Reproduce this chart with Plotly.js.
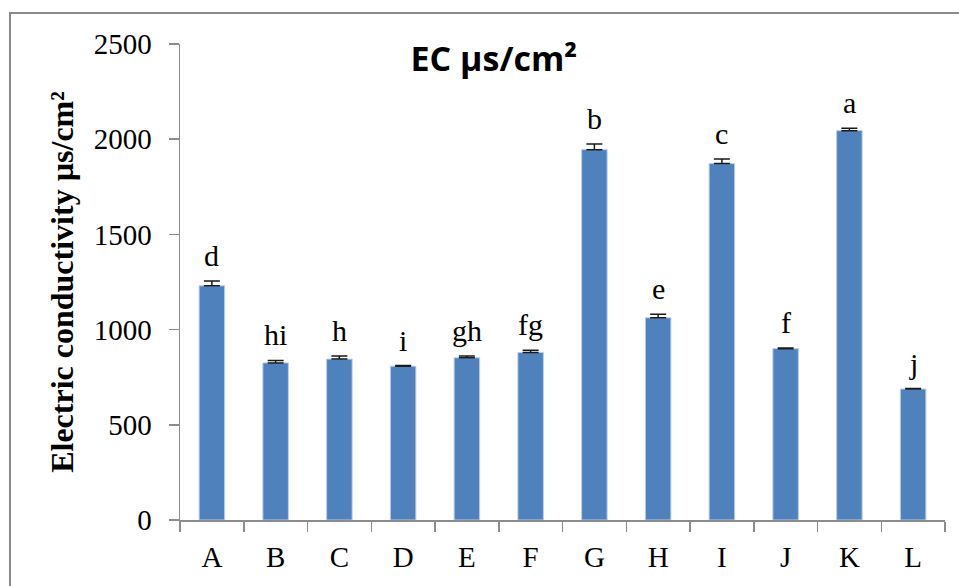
<!DOCTYPE html>
<html>
<head>
<meta charset="utf-8">
<script src="https://cdn.plot.ly/plotly-3.0.1.min.js"></script>
<style>
  html, body { margin: 0; padding: 0; background: #ffffff; }
  #chart { width: 959px; height: 586px; }
</style>
</head>
<body>
<div id="chart"></div>
<script>
// Data
const categories = ['A', 'B', 'C', 'D', 'E', 'F', 'G', 'H', 'I', 'J', 'K', 'L'];
const ecValues   = [1230, 825, 845, 808, 852, 880, 1945, 1062, 1872, 900, 2045, 688];
const ecErrors   = [25, 13, 17, 3, 10, 12, 30, 18, 24, 4, 13, 2];
const sigLetters = ['d', 'hi', 'h', 'i', 'gh', 'fg', 'b', 'e', 'c', 'f', 'a', 'j'];
const yTickVals  = [0, 500, 1000, 1500, 2000, 2500];

const serif = '"Liberation Serif", "Times New Roman", serif';

const trace = {
  type: 'bar',
  x: categories,
  y: ecValues,
  marker: { color: '#4F81BD', line: { color: '#B9CDE5', width: 1 } },
  error_y: {
    type: 'data',
    symmetric: false,
    array: ecErrors,
    arrayminus: ecErrors.map(() => 0),
    color: '#1a1a1a',
    thickness: 1.5,
    width: 8
  },
  hoverinfo: 'x+y'
};

const annotations = categories.map((c, i) => ({
  x: c,
  y: ecValues[i] + ecErrors[i],
  xref: 'x',
  yref: 'y',
  text: sigLetters[i],
  showarrow: false,
  yanchor: 'bottom',
  yshift: 7,
  font: { family: serif, size: 30, color: '#000000' }
}));

const layout = {
  width: 959,
  height: 586,
  margin: { l: 180, r: 14, t: 44, b: 66 },
  paper_bgcolor: '#ffffff',
  plot_bgcolor: '#ffffff',
  showlegend: false,
  bargap: 0.6,
  title: {
    text: '<b>EC µs/cm²</b>',
    font: { family: '"Open Sans", "Lato", sans-serif', size: 34, color: '#000000' },
    x: 0.515,
    xanchor: 'center',
    y: 0.9,
    yanchor: 'middle'
  },
  xaxis: {
    type: 'category',
    showline: true,
    linecolor: '#8c8c8c',
    linewidth: 1.5,
    ticks: 'outside',
    tickson: 'boundaries',
    ticklen: 10,
    tickcolor: '#8c8c8c',
    tickwidth: 1.5,
    ticklabelstandoff: 11,
    showgrid: false,
    zeroline: false,
    tickfont: { family: serif, size: 29, color: '#000000' },
    automargin: false
  },
  yaxis: {
    range: [0, 2500],
    tickvals: yTickVals,
    ticktext: yTickVals.map(String),
    showline: true,
    linecolor: '#8c8c8c',
    linewidth: 1.5,
    ticks: 'outside',
    ticklen: 10,
    tickcolor: '#8c8c8c',
    tickwidth: 1.5,
    ticklabelstandoff: 11,
    showgrid: false,
    zeroline: false,
    tickfont: { family: serif, size: 29, color: '#000000' },
    title: {
      text: '<b>Electric conductivity µs/cm²</b>',
      font: { family: serif, size: 32, color: '#000000' },
      standoff: 10
    },
    automargin: false
  },
  annotations: annotations,
  shapes: [{
    type: 'rect',
    xref: 'paper',
    yref: 'paper',
    x0: (10 - 180) / 765,
    x1: 1.2,
    y0: -0.3,
    y1: (520 - 13) / 476,
    line: { color: '#8a8a8a', width: 2 },
    fillcolor: 'rgba(0,0,0,0)',
    layer: 'below'
  }]
};

Plotly.newPlot('chart', [trace], layout, { displayModeBar: false, staticPlot: true });
</script>
</body>
</html>
